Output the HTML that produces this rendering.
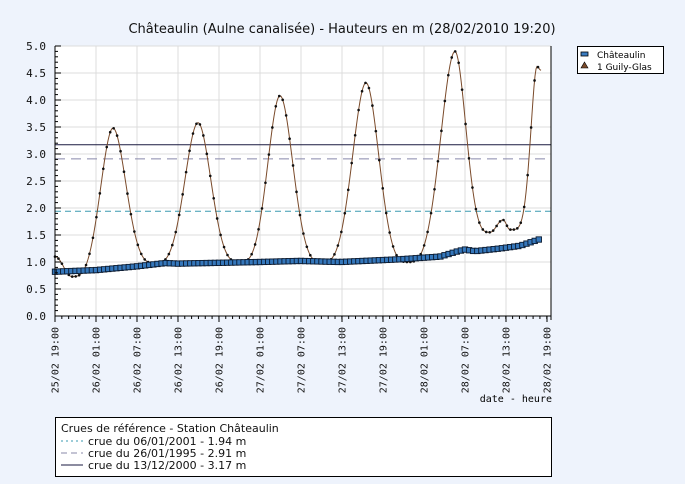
<!DOCTYPE html>
<html><head><meta charset="utf-8"><style>
html,body{margin:0;padding:0;background:#eef3fc;width:685px;height:484px;overflow:hidden}
svg{display:block;font-family:"DejaVu Sans","Liberation Sans",sans-serif}
</style></head><body>
<svg id="s" width="685" height="484" xmlns="http://www.w3.org/2000/svg">
<text x="342" y="33" font-size="13" text-anchor="middle" fill="#111">Châteaulin (Aulne canalisée) - Hauteurs en m (28/02/2010 19:20)</text>
<rect x="55" y="46" width="496" height="270" fill="#fff"/>
<g id="grid" stroke="#dcdcdc" stroke-width="1"></g>
<line x1="55" y1="211.2" x2="551" y2="211.2" stroke="#3a9ab0" stroke-dasharray="6,4"/>
<line x1="55" y1="158.9" x2="551" y2="158.9" stroke="#8888aa" stroke-dasharray="10,6"/>
<line x1="55" y1="144.8" x2="551" y2="144.8" stroke="#1a1a40"/>
<g id="series"></g>
<line x1="55" y1="46" x2="55" y2="316" stroke="#000"/>
<line x1="55" y1="316" x2="551" y2="316" stroke="#000"/>
<line x1="551" y1="46" x2="551" y2="320" stroke="#000"/>
<g id="axes" font-family="'DejaVu Sans Mono','Liberation Mono',monospace" font-size="11" fill="#111"></g>
<text x="552" y="402" font-size="10" text-anchor="end" font-family="'DejaVu Sans Mono','Liberation Mono',monospace">date - heure</text>
<rect x="577.5" y="46.5" width="86" height="27" fill="#fff" stroke="#000"/>
<rect x="581" y="52" width="7" height="4" fill="#3a7cc0" stroke="#000" stroke-width="0.8"/>
<text x="597" y="58" font-size="9">Châteaulin</text>
<polygon points="584.5,62 588,68 581,68" fill="#7a4a2a" stroke="#000" stroke-width="0.6"/>
<text x="597" y="70" font-size="9">1 Guily-Glas</text>
<rect x="55.5" y="417.5" width="496" height="59" fill="#fff" stroke="#000"/>
<g font-size="11" fill="#111">
<text x="61" y="432">Crues de référence - Station Châteaulin</text>
<line x1="61" y1="441" x2="83" y2="441" stroke="#3a9ab0" stroke-dasharray="2,3"/>
<text x="88" y="445">crue du 06/01/2001 - 1.94 m</text>
<line x1="61" y1="453" x2="83" y2="453" stroke="#8888aa" stroke-dasharray="6,4"/>
<text x="88" y="457">crue du 26/01/1995 - 2.91 m</text>
<line x1="61" y1="465" x2="83" y2="465" stroke="#1a1a40"/>
<text x="88" y="469">crue du 13/12/2000 - 3.17 m</text>
</g>
</svg>
<script>
const NS="http://www.w3.org/2000/svg";
function el(t,a,p){const e=document.createElementNS(NS,t);for(const k in a)e.setAttribute(k,a[k]);p.appendChild(e);return e;}
const Y=v=>316-v*54;
const grid=document.getElementById('grid'),axes=document.getElementById('axes'),ser=document.getElementById('series');
for(let i=1;i<=10;i++){el('line',{x1:55,x2:551,y1:Y(i/2),y2:Y(i/2)},grid);}
const labels=["25/02 19:00","26/02 01:00","26/02 07:00","26/02 13:00","26/02 19:00","27/02 01:00","27/02 07:00","27/02 13:00","27/02 19:00","28/02 01:00","28/02 07:00","28/02 13:00","28/02 19:00"];
labels.forEach((l,i)=>{const x=55+i*41;if(i>0&&i<12)el('line',{x1:x,x2:x,y1:46,y2:316},grid);
 el('line',{x1:x,x2:x,y1:316,y2:322,stroke:'#000'},axes);
 const t=el('text',{x:0,y:0,transform:`translate(${x+3.7},${327}) rotate(-90)`,'text-anchor':'end','font-size':'10'},axes);t.textContent=l;});
for(let x=55;x<=551;x+=6.83){el('line',{x1:x,x2:x,y1:316,y2:319,stroke:'#000'},axes);}
for(let i=0;i<=10;i++){const y=Y(i/2);const t=el('text',{x:46,y:y+4,'text-anchor':'end'},axes);t.textContent=(i/2).toFixed(1);
 el('line',{x1:55,x2:61,y1:y,y2:y,stroke:'#000'},axes);}
for(let v=0;v<=5;v+=0.1){const y=Y(v);el('line',{x1:55,x2:58,y1:y,y2:y,stroke:'#000'},axes);}
const ex=[[55,1.1],[72,0.73],[113,3.48],[155,0.98],[198,3.58],[240,1.0],[280,4.08],[322,1.0],[366,4.32],[408,1.0],[455,4.9],[490,1.55],[503,1.78],[510,1.6],[537,4.62],[541,4.55]];
function g(x){for(let i=0;i<ex.length-1;i++){const[a,va]=ex[i],[b,vb]=ex[i+1];if(x>=a&&x<=b){let t=(x-a)/(b-a);
 if(b-a>20){const p=(a===510)?2.2:1.6;if(vb>va)t=Math.pow(t,p);else t=1-Math.pow(1-t,p);}
 return va+(vb-va)*(1-Math.cos(Math.PI*t))/2;}}return 4.55;}
const gv=g;
let pts=[];for(let x=55;x<=541;x+=1)pts.push([x,Y(gv(x))]);
el('polyline',{points:pts.map(p=>p.join(',')).join(' '),fill:'none',stroke:'#7a4a2a','stroke-width':1},ser);
for(let x=55;x<=541;x+=3.45){el('circle',{cx:x,cy:Y(gv(x)),r:1.3,fill:'#111'},ser);}
const ck=[[55,0.82],[96,0.85],[137,0.92],[165,0.98],[178,0.97],[260,1.0],[300,1.02],[340,1.0],[400,1.05],[440,1.1],[458,1.2],[465,1.23],[475,1.2],[500,1.25],[520,1.3],[541,1.43]];
function c(x){for(let i=0;i<ck.length-1;i++){const[a,va]=ck[i],[b,vb]=ck[i+1];if(x>=a&&x<=b)return va+(vb-va)*(x-a)/(b-a);}return 1.43;}
for(let x=55;x<=541;x+=4.1){el('rect',{x:x-2.7,y:Y(c(x))-2.7,width:5.4,height:5.4,fill:'#3577bb',stroke:'#0a1a30','stroke-width':0.9},ser);}
</script>
</body></html>
